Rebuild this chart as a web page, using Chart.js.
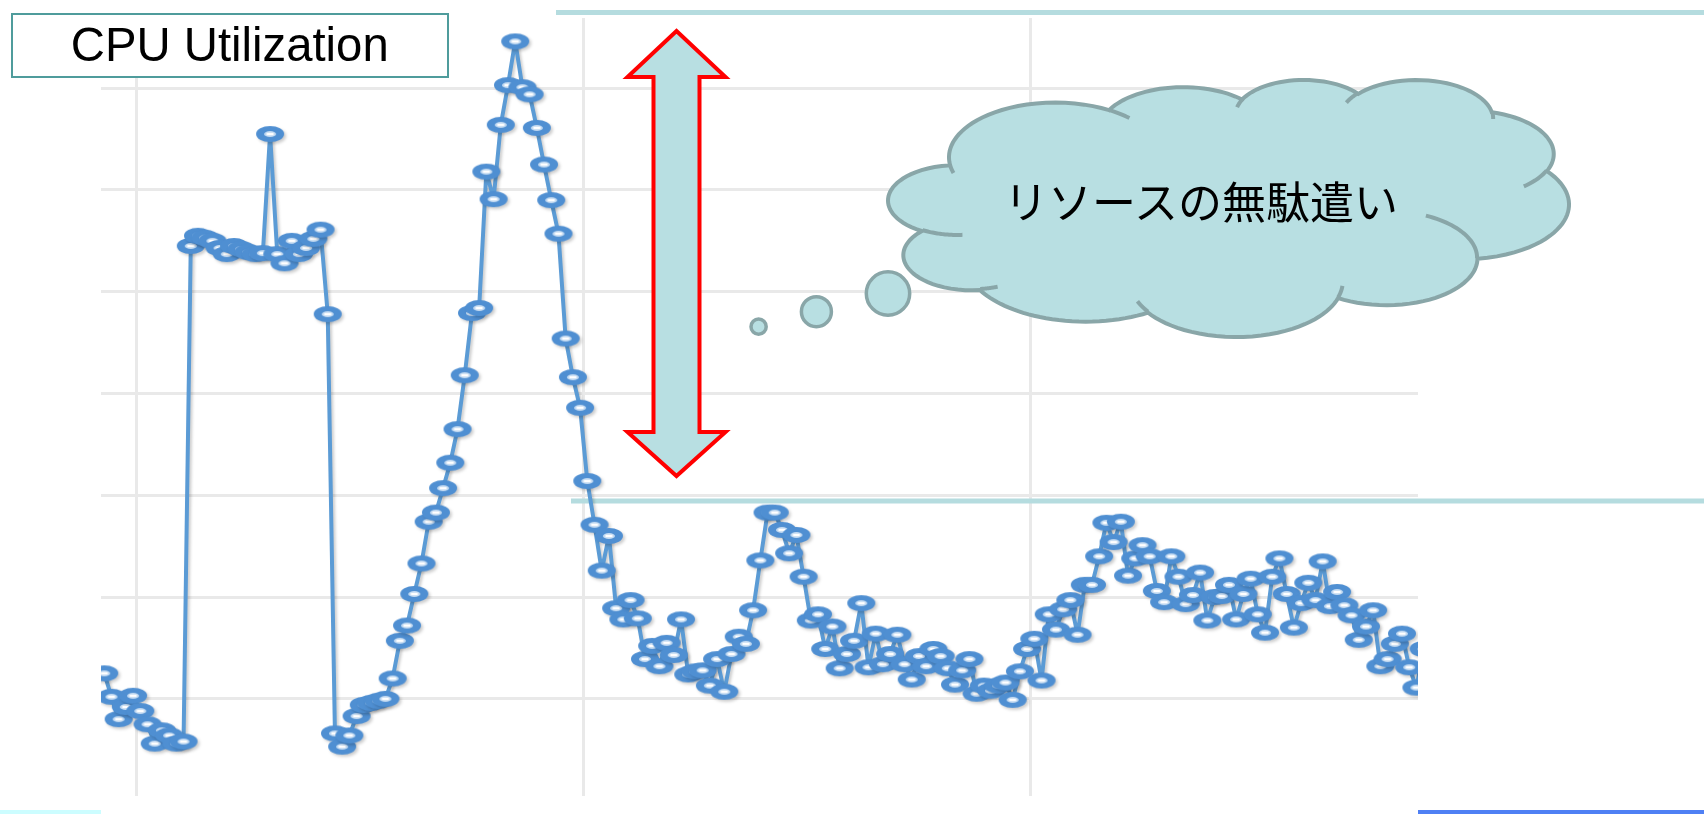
<!DOCTYPE html>
<html lang="ja">
<head>
<meta charset="utf-8">
<title>CPU Utilization</title>
<script src="https://cdn.jsdelivr.net/npm/chart.js@4.4.1/dist/chart.umd.min.js"></script>
<style>
    html, body { margin: 0; padding: 0; background: #fff; overflow: hidden; }
    #wrap { position: relative; width: 1704px; height: 814px; }
    #cpu-chart { position: absolute; left: 0; top: 0; }
    .title-box {
        position: absolute; left: 11px; top: 13px; width: 434px; height: 61px;
        border: 2px solid #4f9c9c; background: #fff; color: #000;
        font: 49px/58px "Liberation Sans", Arial, sans-serif; text-align: center;
    }
    .title-box span { display: inline-block; transform: scaleX(0.965); }
    .cloud-text {
        position: absolute; left: 1001px; top: 170px; width: 400px; color: #000;
        font: 44px/60px "Noto Sans CJK JP", sans-serif; text-align: center; white-space: nowrap;
    }
</style>
</head>
<body>
<div id="wrap">
    <canvas id="cpu-chart" width="1704" height="814"></canvas>
    <div class="title-box"><span>CPU Utilization</span></div>
    <div class="cloud-text">リソースの無駄遣い</div>
</div>
<script>
// CPU utilization samples (%), one per sample
const cpuValues = [
    12.5, 10.2, 8.0, 9.2, 10.3, 8.8, 7.5, 5.6, 6.9, 6.4, 5.6, 5.8,
    54.5, 55.5, 55.3, 55.0, 54.3, 53.7, 54.5, 54.2, 53.9, 53.7, 53.8, 65.5,
    53.7, 52.8, 55.0, 53.7, 54.3, 55.2, 56.1, 47.8,
    6.6, 5.3, 6.4, 8.3, 9.4, 9.6, 9.8, 10.0,
    12.0, 15.7, 17.2, 20.3, 23.3, 27.4, 28.3, 30.7, 33.2, 36.5,
    41.8, 47.9, 48.4, 61.8, 59.1, 66.4, 70.3, 74.6, 70.1, 69.4,
    66.1, 62.5, 59.0, 55.7, 45.4, 41.6, 38.6, 31.4, 27.1, 22.6,
    26.0, 18.9, 17.8, 19.7, 17.9, 13.9, 15.2, 13.2, 15.5, 14.3,
    17.8, 12.4, 12.7, 12.8, 11.3, 13.9, 10.7, 14.4, 16.1, 15.4,
    18.7, 23.6, 28.3, 28.3, 26.6, 24.3, 26.1, 22.0, 17.7, 18.3,
    14.9, 17.1, 13.0, 14.4, 15.7, 19.4, 13.1, 16.4, 13.4, 14.4,
    16.3, 13.4, 11.9, 14.2, 13.2, 14.9, 14.2, 13.0, 11.4, 12.8,
    13.9, 10.5, 11.3, 10.8, 11.3, 11.6, 9.9, 12.7, 14.9, 15.9,
    11.8, 18.3, 16.8, 18.8, 19.7, 16.3, 21.2, 21.2, 24.0, 27.3,
    25.4, 27.4, 22.1, 23.8, 25.1, 24.0, 20.6, 19.5, 24.0, 22.0,
    19.3, 20.2, 22.4, 17.7, 20.0, 20.1, 21.2, 17.8, 20.3, 21.8,
    18.3, 16.5, 22.0, 23.8, 20.3, 17.0, 19.4, 21.4, 19.7, 23.5,
    19.1, 20.5, 19.2, 18.2, 15.8, 17.1, 18.7, 13.2, 13.9, 15.4,
    16.4, 13.1, 11.1, 14.9, 23.8
];
const sampleNo = cpuValues.map((_, i) => i);

// gridlines: value axis every 10 %, category gridlines every 62 samples
const yGridValues = [10, 20, 30, 40, 50, 60, 70];
const xGridSamples = [4.5, 66.5, 128.5];

const TEAL_FILL = '#b8dfe2';
const CLOUD_STROKE = '#89a6a8';

// thick blue ring marker, wider than tall like the picture
function makeMarker() {
    const c = document.createElement('canvas');
    c.width = 30;
    c.height = 18;
    const g = c.getContext('2d');
    g.fillStyle = '#4f8fd2';
    g.beginPath();
    g.ellipse(15, 9, 14, 8, 0, 0, Math.PI * 2);
    g.fill();
    g.fillStyle = '#c4dbf2';
    g.beginPath();
    g.ellipse(15, 9, 6, 3, 0, 0, Math.PI * 2);
    g.fill();
    g.fillStyle = '#ffffff';
    g.fillRect(11.5, 7.8, 7, 2.4);
    return c;
}

// preset "cloud" outline (DrawingML, 43200 units)
const CLOUD_START = [3900, 14370];
const CLOUD_ARCS = [
    [6753, 9190, -11429249, 7426832],
    [5333, 7267, -8646143, 5396714],
    [4365, 5945, -8748475, 5983381],
    [4857, 6595, -7859164, 7034504],
    [5333, 7273, -4722533, 6541615],
    [6775, 9220, -2776035, 7816140],
    [5785, 7867, 37501, 6842000],
    [6752, 9215, 1347096, 6910353],
    [7720, 10543, 3974558, 4542661],
    [4360, 5918, -16496525, 8804134],
    [4345, 5945, -14809710, 9151131]
];
const CLOUD_INNER = [
    [4693, 26177, 4345, 5945, 5204520, 1585770],
    [6928, 34899, 4360, 5918, 4416628, 686848],
    [16478, 39090, 6752, 9215, 8257449, 844866],
    [28827, 34751, 6752, 9215, 387196, 959901],
    [34129, 22954, 5785, 7867, -4217541, 4255042],
    [41798, 15354, 5333, 7273, 1819082, 1665090],
    [38324, 5426, 4857, 6595, -824660, 891534],
    [29078, 3952, 4857, 6595, -8950887, 1091722],
    [22141, 4720, 4365, 5945, -9809656, 1061181],
    [14000, 5192, 6753, 9190, -4002417, 739161],
    [4127, 15789, 6753, 9190, 9459261, 711490]
];

function arcTo(cur, wR, hR, stAng, swAng, out) {
    const st = stAng / 60000 * Math.PI / 180;
    const sw = swAng / 60000 * Math.PI / 180;
    const t0 = Math.atan2(wR * Math.sin(st), hR * Math.cos(st));
    const cx = cur[0] - wR * Math.cos(t0);
    const cy = cur[1] - hR * Math.sin(t0);
    let p = cur;
    for (let k = 1; k <= 32; k++) {
        const a = st + sw * k / 32;
        const t = Math.atan2(wR * Math.sin(a), hR * Math.cos(a));
        p = [cx + wR * Math.cos(t), cy + hR * Math.sin(t)];
        out.push(p);
    }
    return p;
}

function drawCloud(ctx, box) {
    const outline = [CLOUD_START];
    let cur = CLOUD_START;
    CLOUD_ARCS.forEach(([wR, hR, st, sw]) => { cur = arcTo(cur, wR, hR, st, sw, outline); });
    const xs = outline.map(p => p[0]), ys = outline.map(p => p[1]);
    const minX = Math.min(...xs), maxX = Math.max(...xs);
    const minY = Math.min(...ys), maxY = Math.max(...ys);
    const map = p => [
        box.left + (p[0] - minX) / (maxX - minX) * (box.right - box.left),
        box.top + (p[1] - minY) / (maxY - minY) * (box.bottom - box.top)
    ];

    ctx.save();
    ctx.lineWidth = 4;
    ctx.strokeStyle = CLOUD_STROKE;
    ctx.fillStyle = TEAL_FILL;
    ctx.beginPath();
    outline.map(map).forEach((p, i) => i ? ctx.lineTo(p[0], p[1]) : ctx.moveTo(p[0], p[1]));
    ctx.closePath();
    ctx.fill();
    ctx.stroke();

    CLOUD_INNER.forEach(([x, y, wR, hR, st, sw]) => {
        const pts = [[x, y]];
        arcTo([x, y], wR, hR, st, sw, pts);
        ctx.beginPath();
        pts.map(map).forEach((p, i) => i ? ctx.lineTo(p[0], p[1]) : ctx.moveTo(p[0], p[1]));
        ctx.stroke();
    });

    // thought bubbles
    ctx.lineWidth = 3.5;
    [[758.6, 326.7, 7.6], [816.4, 311.7, 15], [888, 293.5, 21.7]].forEach(([x, y, r]) => {
        ctx.beginPath();
        ctx.arc(x, y, r, 0, Math.PI * 2);
        ctx.fill();
        ctx.stroke();
    });
    ctx.restore();
}

function drawDoubleArrow(ctx) {
    const cx = 676.5, head = 49, shaft = 23;
    const tipTop = 31, headTop = 77, headBottom = 432, tipBottom = 476;
    ctx.save();
    ctx.beginPath();
    ctx.moveTo(cx, tipTop);
    ctx.lineTo(cx + head, headTop);
    ctx.lineTo(cx + shaft, headTop);
    ctx.lineTo(cx + shaft, headBottom);
    ctx.lineTo(cx + head, headBottom);
    ctx.lineTo(cx, tipBottom);
    ctx.lineTo(cx - head, headBottom);
    ctx.lineTo(cx - shaft, headBottom);
    ctx.lineTo(cx - shaft, headTop);
    ctx.lineTo(cx - head, headTop);
    ctx.closePath();
    ctx.fillStyle = TEAL_FILL;
    ctx.fill();
    ctx.lineWidth = 4;
    ctx.lineJoin = 'miter';
    ctx.strokeStyle = '#ff0000';
    ctx.stroke();
    ctx.restore();
}

const lineShadow = {
    id: 'lineShadow',
    beforeDatasetsDraw(chart) {
        const ctx = chart.ctx;
        // teal guide lines: peak level and normal level
        ctx.fillStyle = '#b5dcdf';
        ctx.fillRect(556, 10, 1148, 5);
        ctx.fillRect(571, 498.5, 1133, 5);
        ctx.save();
        ctx.shadowColor = 'rgba(0, 0, 0, 0.2)';
        ctx.shadowBlur = 3;
        ctx.shadowOffsetX = 2;
        ctx.shadowOffsetY = 2;
    },
    afterDatasetsDraw(chart) {
        chart.ctx.restore();
    }
};

const annotations = {
    id: 'annotations',
    afterDraw(chart) {
        const ctx = chart.ctx;
        drawDoubleArrow(ctx);
        drawCloud(ctx, { left: 888, top: 80, right: 1569, bottom: 337 });
        ctx.fillStyle = '#ccfdff';
        ctx.fillRect(0, 810, 101, 4);
        ctx.fillStyle = '#4f80f4';
        ctx.fillRect(1418, 810, 286, 4);
    }
};

const gridColor = '#e9e9e9';

new Chart(document.getElementById('cpu-chart'), {
    type: 'line',
    data: {
        datasets: [{
            label: 'CPU Utilization',
            data: sampleNo.map((s, i) => ({ x: s, y: cpuValues[i] })),
            borderColor: '#5b9bd5',
            borderWidth: 4,
            borderJoinStyle: 'round',
            pointStyle: makeMarker(),
            pointRadius: 14,
            pointHoverRadius: 14,
            tension: 0
        }]
    },
    options: {
        responsive: false,
        animation: false,
        events: [],
        layout: { padding: { left: 101, right: 286, top: 14, bottom: 0 } },
        plugins: {
            legend: { display: false },
            tooltip: { enabled: false }
        },
        scales: {
            x: {
                type: 'linear',
                min: -0.45,
                max: 182.22,
                border: { display: false },
                grid: { color: gridColor, lineWidth: 3, drawTicks: false },
                ticks: { display: false },
                afterBuildTicks: axis => { axis.ticks = xGridSamples.map(v => ({ value: v })); },
                afterFit: axis => { axis.height = 0; }
            },
            y: {
                min: 0.45,
                max: 76.9,
                border: { display: false },
                grid: { color: gridColor, lineWidth: 3, drawTicks: false },
                ticks: { display: false },
                afterBuildTicks: axis => { axis.ticks = yGridValues.map(v => ({ value: v })); },
                afterFit: axis => { axis.width = 0; }
            }
        }
    },
    plugins: [lineShadow, annotations]
});
</script>
</body>
</html>
